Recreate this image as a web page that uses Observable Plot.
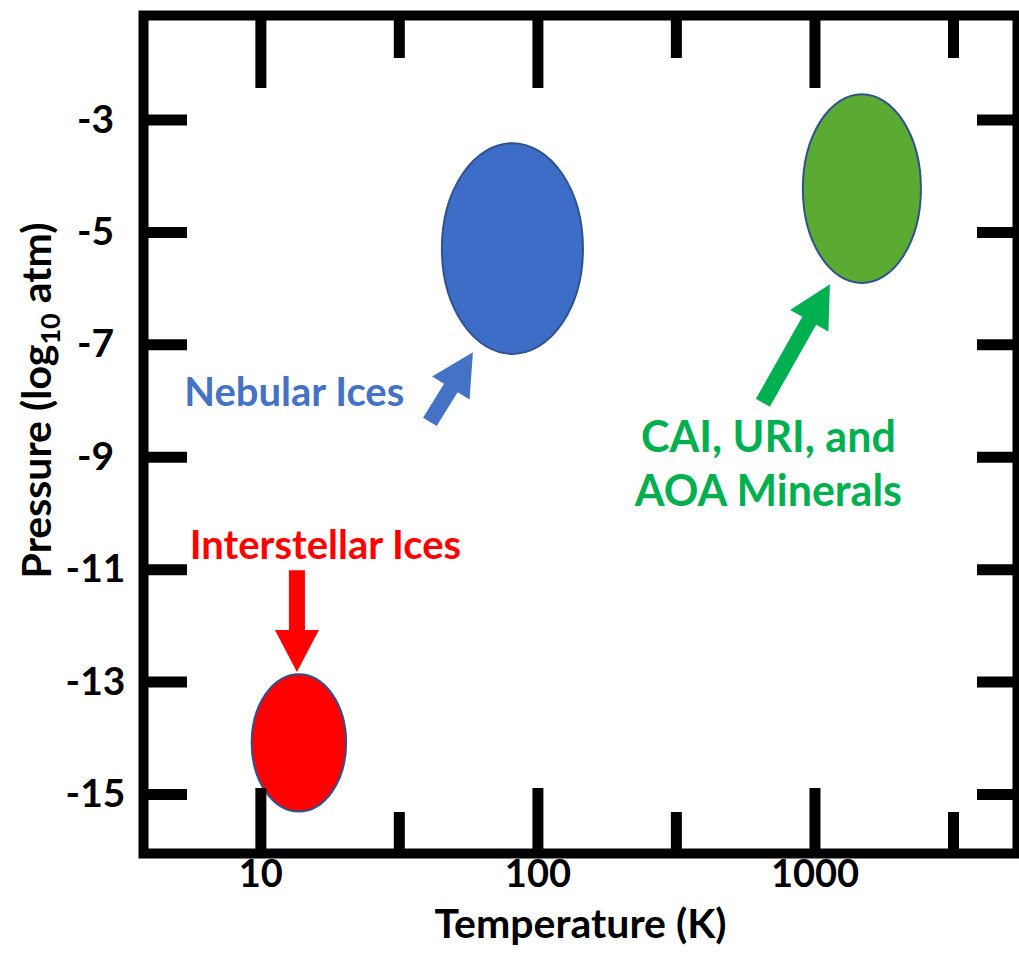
<!DOCTYPE html>
<html>
<head>
<meta charset="utf-8">
<script src="https://cdn.jsdelivr.net/npm/d3@7"></script>
<script src="https://cdn.jsdelivr.net/npm/@observablehq/plot@0.6"></script>
<style>
  html, body { margin: 0; padding: 0; background: #ffffff; }
  #chart svg { display: block; }
</style>
</head>
<body>
<div id="chart"></div>
<script>
// ---------------- Data ----------------
const xMajorTicks = [10, 100, 1000];
const xMinorTicks = [31.6, 316, 3162];
const yTicks = [-3, -5, -7, -9, -11, -13, -15];

// Regions (ellipses): temperature range (K) and log10 pressure range (atm)
const regionNames  = ["Interstellar Ices", "Nebular Ices", "CAI, URI, and AOA Minerals"];
const regionTMin   = [9.3, 45.2, 908];
const regionTMax   = [20.4, 146, 2422];
const regionPMin   = [-15.31, -7.17, -5.91];
const regionPMax   = [-12.87, -3.42, -2.55];
const regionFill   = ["#FF0000", "#3D6DC6", "#5BAA32"];

// Annotation labels
const labelText    = ["Interstellar Ices", "Nebular Ices", "CAI, URI, and\nAOA Minerals"];
const labelT       = [17.1, 13.2, 679];
const labelP       = [-10.52, -7.80, -9.08];
const labelColor   = ["#FF0000", "#4472C4", "#00B050"];
const labelSize    = [40, 40, 43];

// Annotation arrows (tail -> tip)
const arrowT1 = [13.55, 40.9, 651];
const arrowP1 = [-11.02, -8.38, -8.04];
const arrowT2 = [13.55, 58.5, 1137];
const arrowP2 = [-12.83, -7.14, -5.93];
const arrowColor = ["#FF0000", "#4472C4", "#00B050"];

// ---------------- Tables ----------------
const regions = regionNames.map((name, i) => ({
  name, tMin: regionTMin[i], tMax: regionTMax[i], pMin: regionPMin[i], pMax: regionPMax[i], fill: regionFill[i]
}));
const labels = labelText.map((text, i) => ({text, t: labelT[i], p: labelP[i], color: labelColor[i], size: labelSize[i]}));
const arrows = arrowT1.map((t1, i) => ({t1, p1: arrowP1[i], t2: arrowT2[i], p2: arrowP2[i], color: arrowColor[i]}));

// ---------------- Layout ----------------
const W = 1019, H = 960;
const mL = 143, mR = 2, mT = 15, mB = 107;
const plotW = W - mL - mR, plotH = H - mT - mB;
const FONT = "Lato, 'Open Sans', sans-serif";

function ellipseRender(index, scales, values) {
  const g = d3.create("svg:g");
  for (const i of index) {
    const x1 = values.x1[i], x2 = values.x2[i], y1 = values.y1[i], y2 = values.y2[i];
    g.append("ellipse")
      .attr("cx", (x1 + x2) / 2).attr("cy", (y1 + y2) / 2)
      .attr("rx", Math.abs(x2 - x1) / 2).attr("ry", Math.abs(y2 - y1) / 2)
      .attr("fill", regions[i].fill)
      .attr("stroke", "#2F528F").attr("stroke-width", 2);
  }
  return g.node();
}

function blockArrowRender(index, scales, values) {
  const g = d3.create("svg:g");
  const w = 16, hl = 42, hw = 44;
  for (const i of index) {
    const ax = values.x1[i], ay = values.y1[i], bx = values.x2[i], by = values.y2[i];
    const L = Math.hypot(bx - ax, by - ay);
    const ux = (bx - ax) / L, uy = (by - ay) / L;
    const nx = -uy, ny = ux;
    const cx = bx - ux * hl, cy = by - uy * hl;
    const pts = [
      [ax + nx * w / 2, ay + ny * w / 2],
      [cx + nx * w / 2, cy + ny * w / 2],
      [cx + nx * hw / 2, cy + ny * hw / 2],
      [bx, by],
      [cx - nx * hw / 2, cy - ny * hw / 2],
      [cx - nx * w / 2, cy - ny * w / 2],
      [ax - nx * w / 2, ay - ny * w / 2]
    ];
    g.append("path")
      .attr("d", "M" + pts.map(p => p.join(",")).join("L") + "Z")
      .attr("fill", arrows[i].color);
  }
  return g.node();
}

const plot = Plot.plot({
  width: W,
  height: H,
  marginLeft: mL, marginRight: mR, marginTop: mT, marginBottom: mB,
  style: {fontFamily: FONT, background: "#ffffff"},
  x: {type: "log", domain: [3.77, 5383], axis: null},
  y: {domain: [-16.05, -1.14], axis: null},
  marks: [
    // regions
    Plot.rect(regions, {x1: "tMin", x2: "tMax", y1: "pMin", y2: "pMax", render: ellipseRender}),
    // arrows
    Plot.link(arrows, {x1: "t1", y1: "p1", x2: "t2", y2: "p2", render: blockArrowRender}),
    // labels
    ...labels.map(d => Plot.text([d], {
      x: "t", y: "p", text: "text", fill: d.color, fontSize: d.size, fontWeight: "bold",
      fontFamily: FONT, textAnchor: "middle", lineAnchor: "middle", lineHeight: 1.256
    })),
    // inward ticks: bottom
    Plot.tickX(xMajorTicks, {x: d => d, stroke: "black", strokeWidth: 11, insetTop: plotH - 65}),
    Plot.tickX(xMinorTicks, {x: d => d, stroke: "black", strokeWidth: 11, insetTop: plotH - 41}),
    // inward ticks: top
    Plot.tickX(xMajorTicks, {x: d => d, stroke: "black", strokeWidth: 11, insetBottom: plotH - 73}),
    Plot.tickX(xMinorTicks, {x: d => d, stroke: "black", strokeWidth: 11, insetBottom: plotH - 43}),
    // inward ticks: left & right
    Plot.tickY(yTicks, {y: d => d, stroke: "black", strokeWidth: 11, insetRight: plotW - 44}),
    Plot.tickY(yTicks, {y: d => d, stroke: "black", strokeWidth: 11, insetLeft: plotW - 40}),
    // frame
    Plot.frame({stroke: "black", strokeWidth: 10}),
    // tick labels
    Plot.text(xMajorTicks, {x: d => d, frameAnchor: "bottom", dy: 33, text: d => String(d),
      textAnchor: "middle", fontSize: 38, fontWeight: "bold", fontFamily: FONT, fill: "black"}),
    Plot.text(yTicks, {y: d => d, frameAnchor: "left", dx: -48, text: d => String(d), textAnchor: "middle",
      fontSize: 39, fontWeight: "bold", fontFamily: FONT, fill: "black"}),
    // axis titles
    Plot.text(["Temperature (K)"], {frameAnchor: "bottom", dy: 84, text: d => d, textAnchor: "middle",
      fontSize: 41, fontWeight: "bold", fontFamily: FONT, fill: "black"}),
    Plot.text(["Pressure (log10 atm)"], {frameAnchor: "left", dx: -106, dy: -34, rotate: -90, text: d => d,
      textAnchor: "middle", fontSize: 41, fontWeight: "bold", fontFamily: FONT, fill: "black"})
  ]
});

// subscript for log10
d3.select(plot).selectAll("text").filter(function () { return this.textContent === "Pressure (log10 atm)"; })
  .each(function () {
    const t = d3.select(this);
    t.text(null);
    t.append("tspan").text("Pressure (log");
    t.append("tspan").attr("dy", 9).attr("font-size", 27).text("10");
    t.append("tspan").attr("dy", -9).text(" atm)");
  });

document.getElementById("chart").appendChild(plot);
</script>
</body>
</html>
